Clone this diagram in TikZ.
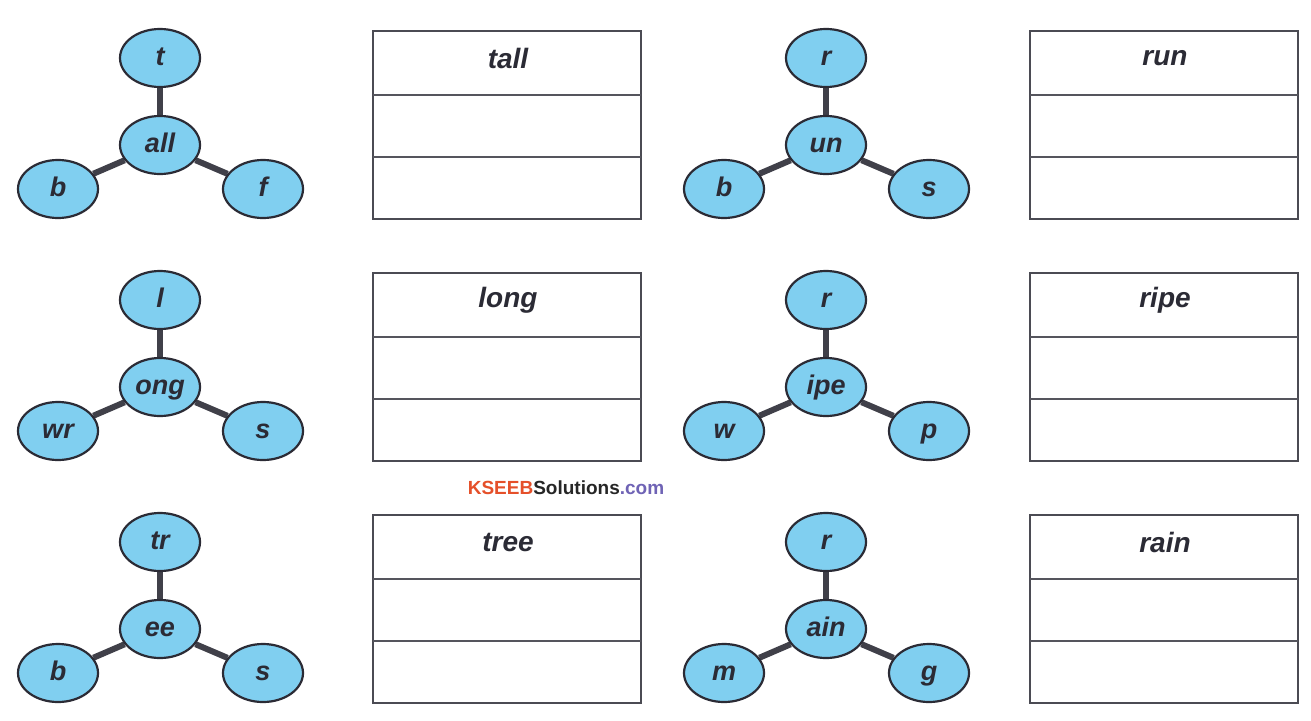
\documentclass[tikz,border=0pt]{standalone}
\usepackage{fontspec}
\setmainfont{Liberation Sans}
\usetikzlibrary{backgrounds,shapes.geometric}
\definecolor{bubble}{HTML}{80CFF0}
\definecolor{ink}{HTML}{2B2B35}
\definecolor{kred}{HTML}{E5502A}
\definecolor{kpurple}{HTML}{6F63B5}
\tikzset{
  bub/.style={ellipse, draw=ink, line width=2.2pt, fill=bubble, minimum width=80pt, minimum height=58pt, inner sep=0pt, text height=17pt, text depth=2pt, font=\fontsize{27}{27}\selectfont\bfseries\itshape, text=ink},
  link/.style={draw=ink!90, line width=6pt},
  wbox/.style={draw=ink!85, line width=2.4pt},
  wline/.style={draw=ink!80, line width=1.2pt},
  wlabel/.style={font=\fontsize{28}{28}\selectfont\bfseries\itshape, text=ink}
}
\newcommand{\wgroup}[9]{%
  % #1 prefix, #2 x, #3 y (center), #4 top, #5 mid, #6 left, #7 right, #8 box x, #9 word
  \node[bub] (#1t) at (#2,#3-87) {#4};
  \node[bub] (#1c) at (#2,#3) {#5};
  \node[bub] (#1l) at (#2-102,#3+44) {#6};
  \node[bub] (#1r) at (#2+103,#3+44) {#7};
  \begin{scope}[on background layer]
    \draw[link] (#1c) -- (#1t);
    \draw[link] (#1c) -- (#1l);
    \draw[link] (#1c) -- (#1r);
  \end{scope}
  \node[wlabel] (#1w) at (#8+135,#3-87) {#9};
  \draw[wbox] (#8,#3-114) rectangle (#8+268,#3+74);
  \draw[wline] (#8,#3-50) -- (#8+268,#3-50);
  \draw[wline] (#8,#3+12) -- (#8+268,#3+12);
}
\begin{document}
\begin{tikzpicture}[x=1pt,y=-1pt]
\begin{scope}[on background layer]
\fill[white] (0,0) rectangle (1311,720);
\end{scope}
\useasboundingbox (0,0) rectangle (1311,720);
\wgroup{a}{160}{145}{t}{all}{b}{f}{373}{tall}
\wgroup{b}{826}{145}{r}{un}{b}{s}{1030}{run}
\wgroup{c}{160}{387}{l}{ong}{wr}{s}{373}{long}
\wgroup{d}{826}{387}{r}{ipe}{w}{p}{1030}{ripe}
\wgroup{e}{160}{629}{tr}{ee}{b}{s}{373}{tree}
\wgroup{f}{826}{629}{r}{ain}{m}{g}{1030}{rain}
\node[font=\fontsize{19}{19}\selectfont\bfseries, inner sep=0pt] (wm) at (566,488) {\textcolor{kred}{KSEEB}\textcolor{black!85}{Solutions}\textcolor{kpurple}{.com}};
\end{tikzpicture}
\end{document}
